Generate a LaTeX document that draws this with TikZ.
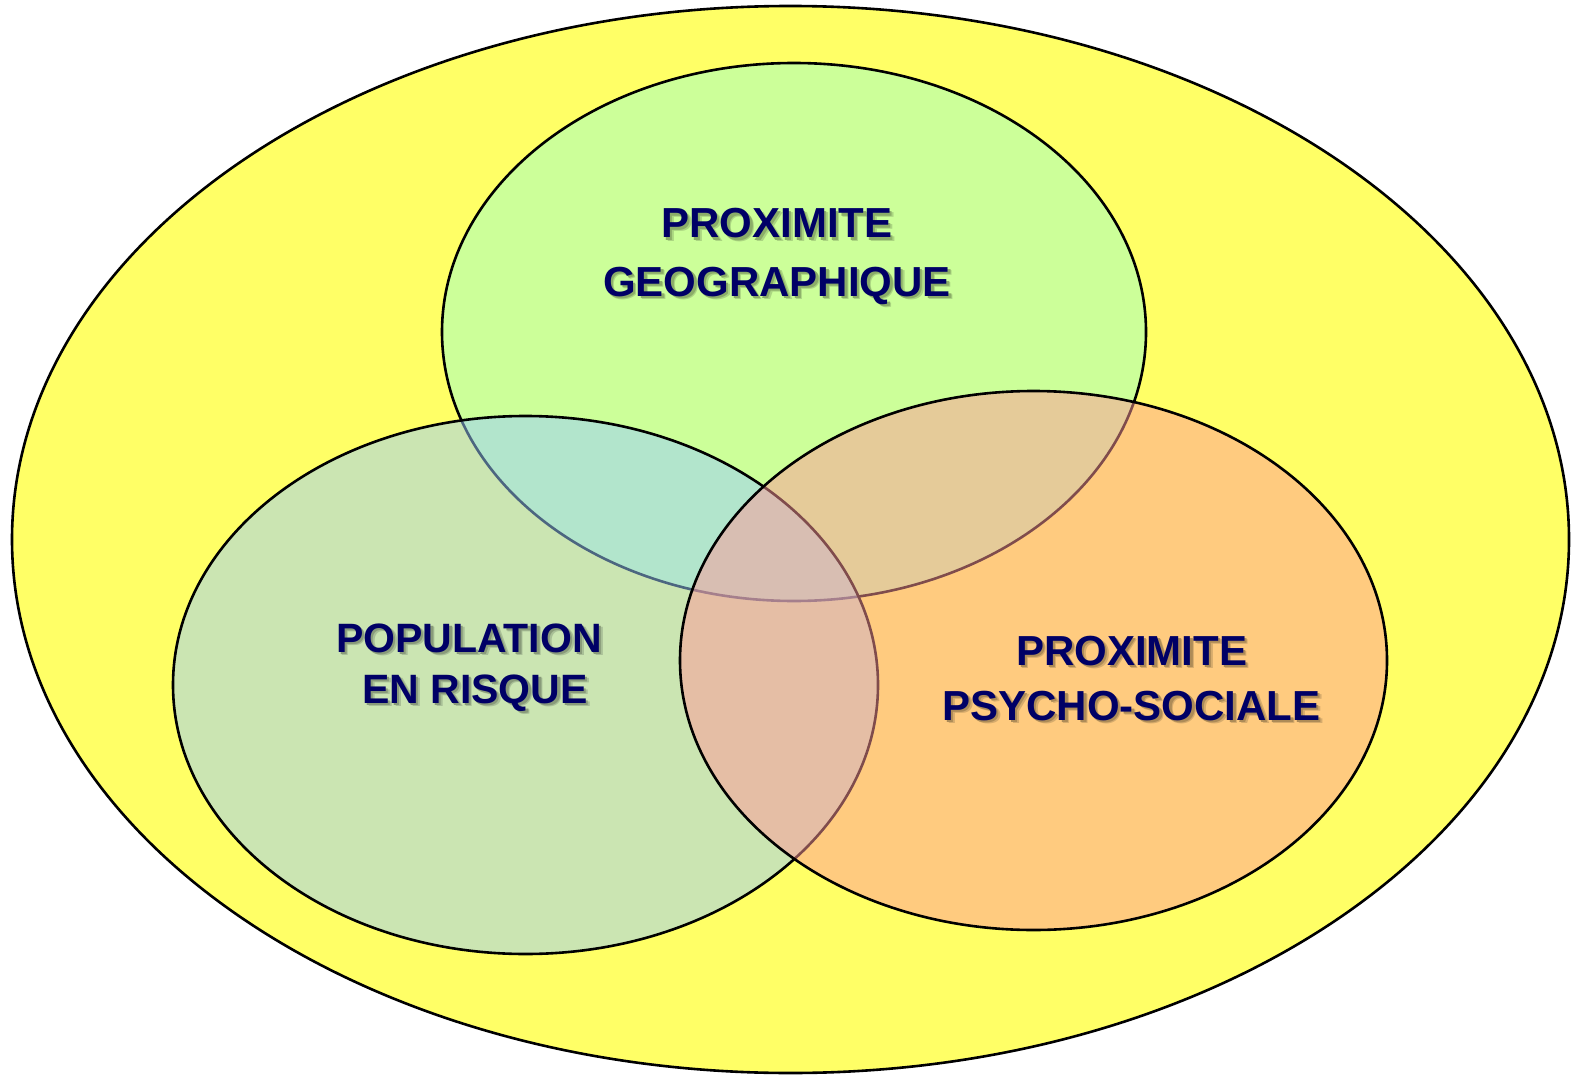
\documentclass[tikz,border=0pt]{standalone}
\usepackage{fontspec}
\setmainfont{Liberation Sans}
\definecolor{outeryellow}{RGB}{255,255,102}
\definecolor{geogreen}{RGB}{204,255,153}
\definecolor{popblue}{RGB}{153,204,255}
\definecolor{psypink}{RGB}{255,153,153}
\definecolor{navy}{RGB}{0,0,102}
% backgrounds under the labels (for the soft text shadow)
\definecolor{bgtop}{RGB}{204,255,153}
\definecolor{bgleft}{RGB}{201,228,180}
\definecolor{bgright}{RGB}{255,204,128}
\tikzset{
  venn/.style={draw=black, line width=1.3pt},
  lbl/.style={anchor=base, inner sep=0pt, text=navy, font=\bfseries\fontsize{21}{25}\selectfont},
  lblsmall/.style={lbl, font=\bfseries\fontsize{20.5}{25}\selectfont},
}
% #1 background colour, #2 text: text with a soft shadow down-right
\newcommand{\shtxt}[2]{%
  \makebox[0pt][l]{\kern1.9pt\raisebox{-1.9pt}{\textcolor{#1!84!black}{#2}}}%
  \makebox[0pt][l]{\kern1.2pt\raisebox{-1.2pt}{\textcolor{#1!68!black}{#2}}}%
  #2}
\begin{document}
\begin{tikzpicture}[x=0.5pt,y=-0.5pt]
  \useasboundingbox (0,0) rectangle (1573,1075);
  \fill[white] (0,0) rectangle (1573,1075);
  % outer set
  \draw[venn, fill=outeryellow] (790.5,539.5) ellipse [x radius=778.5, y radius=533.5];
  % three sets
  \draw[venn, fill=geogreen] (794,332) ellipse [x radius=352, y radius=269];
  \draw[venn, fill=popblue, fill opacity=0.5] (525.5,685) ellipse [x radius=352.5, y radius=269];
  \draw[venn, fill=psypink, fill opacity=0.5] (1033.5,660.5) ellipse [x radius=353.5, y radius=269.5];
  % labels
  \node[lbl] (geo1) at (777,238) {\shtxt{bgtop}{PROXIMITE}};
  \node[lbl] (geo2) at (777,296) {\shtxt{bgtop}{GEOGRAPHIQUE}};
  \node[lblsmall] (pop1) at (469,652) {\shtxt{bgleft}{POPULATION}};
  \node[lblsmall] (pop2) at (475,703) {\shtxt{bgleft}{EN RISQUE}};
  \node[lbl] (psy1) at (1131.5,665) {\shtxt{bgright}{PROXIMITE}};
  \node[lbl] (psy2) at (1131.5,720) {\shtxt{bgright}{PSYCHO-SOCIALE}};
\end{tikzpicture}
\end{document}
